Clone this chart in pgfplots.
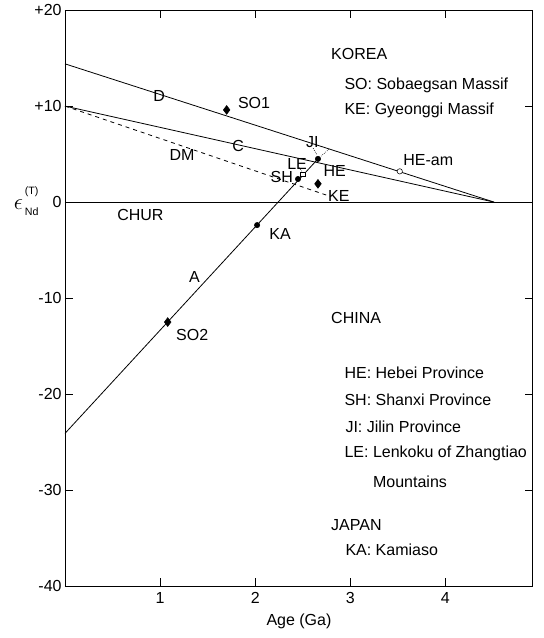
\documentclass[border=0pt]{standalone}
\usepackage{pgfplots}
\pgfplotsset{compat=1.18}
\usepackage{fontspec}
\setmainfont{Liberation Sans}
\begin{document}
\begin{tikzpicture}[font=\fontsize{12}{14}\selectfont]
\begin{axis}[
  scale only axis, width=351pt, height=432pt,
  xmin=0, xmax=4.92, ymin=-40, ymax=20,
  xtick={1,2,3,4}, xticklabels={1,2,3,4},
  ytick={-40,-30,-20,-10,0,10,20}, yticklabels={-40,-30,-20,-10,0,+10,+20},
  tick align=inside, major tick length=6pt,
  tick style={black, line width=0.6pt},
  axis line style={line width=0.7pt},
  yticklabel style={xshift=1pt},
  xticklabel style={yshift=-1pt},
  xlabel={Age (Ga)},
  xlabel style={yshift=-1pt},
  clip=false,
]
% reference lines
\addplot[black, line width=0.6pt] coordinates {(0,14.4) (4.51,0)}; % D
\addplot[black, line width=0.6pt] coordinates {(0,10) (4.51,0)};   % C
\addplot[black, line width=0.6pt, dash pattern=on 3pt off 3pt] coordinates {(0,10) (2.8,0.55)}; % DM
\addplot[black, line width=0.6pt] coordinates {(0,-24.1) (2.66,4.5)}; % A
\addplot[black, line width=0.6pt] coordinates {(0,0) (4.92,0)};   % CHUR
\addplot[black, line width=0.5pt, densely dotted] coordinates {(2.66,4.5) (2.78,5.55)}; % JI tie
\addplot[black, line width=0.5pt, densely dotted] coordinates {(2.61,5.6) (2.65,4.9)};  % JI leader
\addplot[black, line width=0.5pt, densely dotted] coordinates {(2.46,3.6) (2.49,3.2)};  % LE leader
% samples
\addplot[only marks, mark=diamond*, mark size=3.3pt, black] coordinates {(1.70,9.6) (1.08,-12.5) (2.66,1.9)};
\addplot[only marks, mark=*, mark size=2pt, black] coordinates {(2.66,4.5) (2.45,2.4) (2.02,-2.4)};
\addplot[only marks, mark=*, mark size=2pt, draw=black, fill=white] coordinates {(3.52,3.2)};
\addplot[only marks, mark=square*, mark size=1.7pt, draw=black, fill=white] coordinates {(2.5,2.9)};
% labels
\node[anchor=west] at (axis cs:2.75,15.4) {KOREA};
\node[anchor=west] at (axis cs:2.89,12.2) {SO: Sobaegsan Massif};
\node[anchor=west] at (axis cs:2.89,9.6) {KE: Gyeonggi Massif};
\node at (axis cs:0.99,11.0) {D};
\node[anchor=west] at (axis cs:1.77,10.3) {SO1};
\node at (axis cs:1.82,5.8) {C};
\node at (axis cs:1.23,4.9) {DM};
\node at (axis cs:2.6,6.3) {JI};
\node at (axis cs:2.44,4.0) {LE};
\node[anchor=west] at (axis cs:2.67,3.2) {HE};
\node at (axis cs:2.28,2.6) {SH};
\node at (axis cs:2.88,0.6) {KE};
\node at (axis cs:3.82,4.4) {HE-am};
\node[anchor=west] at (axis cs:0.5,-1.35) {CHUR};
\node at (axis cs:1.36,-7.8) {A};
\node[anchor=west] at (axis cs:2.1,-3.3) {KA};
\node[anchor=west] at (axis cs:1.12,-13.9) {SO2};
\node[anchor=west] at (axis cs:2.75,-12.1) {CHINA};
\node[anchor=west] at (axis cs:2.89,-17.8) {HE: Hebei Province};
\node[anchor=west] at (axis cs:2.89,-20.6) {SH: Shanxi Province};
\node[anchor=west] at (axis cs:2.9,-23.4) {JI: Jilin Province};
\node[anchor=west] at (axis cs:2.89,-26.2) {LE: Lenkoku of Zhangtiao};
\node[anchor=west] at (axis cs:3.19,-29.1) {Mountains};
\node[anchor=west] at (axis cs:2.75,-33.6) {JAPAN};
\node[anchor=west] at (axis cs:2.9,-36.25) {KA: Kamiaso};
% y label: epsilon_Nd^(T)
\node[inner sep=0pt] at (axis cs:0,0) [xshift=-35pt, yshift=-1.5pt] {\fontsize{17}{17}\selectfont$\epsilon$};
\node[inner sep=0pt] at (axis cs:0,0) [xshift=-25pt, yshift=7.5pt] {\fontsize{8}{8}\selectfont(T)};
\node[inner sep=0pt] at (axis cs:0,0) [xshift=-25pt, yshift=-7.5pt] {\fontsize{8}{8}\selectfont Nd};
\end{axis}
\path[use as bounding box] (-48.75pt,-39pt) rectangle (359.25pt,439.5pt);
\end{tikzpicture}
\end{document}
